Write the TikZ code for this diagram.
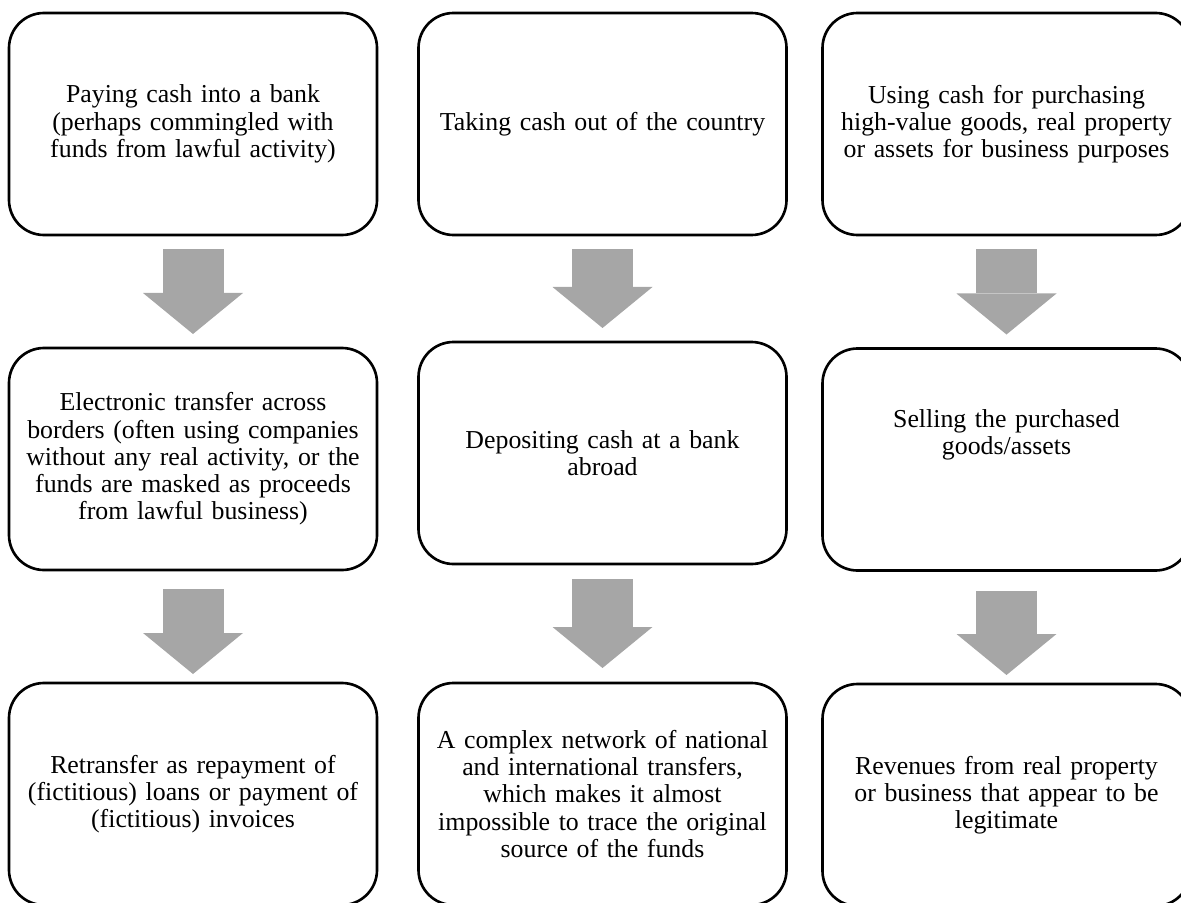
\documentclass[tikz,border=0pt]{standalone}
\usepackage{fontspec}
\setmainfont{Liberation Serif}
\usetikzlibrary{arrows.meta}
\definecolor{arrowgray}{RGB}{166,166,166}

\begin{document}
\begin{tikzpicture}[x=0.2mm, y=-0.2mm,
	stagebox/.style={draw, line width=1.5pt, rounded corners=0.7cm, minimum width=7.36cm, minimum height=4.44cm, text width=7.2cm, align=center, inner sep=0.05cm, outer sep=0pt, font=\fontsize{14.7pt}{15.5pt}\selectfont},
	flowarrow/.style={arrowgray, line width=1.22cm, -{Triangle[width=2cm, length=0.82cm, line width=0pt]}, shorten <=0.28cm, shorten >=0.28cm}]
	\useasboundingbox (0,0) rectangle (1181,902);
	\clip (0,0) rectangle (1181,902);
	
	% --- first row ---
	\node[stagebox] (paycash) at (193,124) {Paying cash into a bank\\(perhaps commingled with\\funds from lawful activity)};
	\node[stagebox] (takeout) at (602.5,124) {Taking cash out of the country};
	\node[stagebox] (buygoods) at (1006.5,124) {Using cash for purchasing\\high-value goods, real property\\or assets for business purposes};
	
	% --- second row ---
	\node[stagebox] (eltransfer) at (193,459) {Electronic transfer across\\borders (often using companies\\without any real activity, or the\\funds are masked as proceeds\\from lawful business)};
	\node[stagebox] (deposit) at (602.5,453) {Depositing cash at a bank\\abroad};
	\node[stagebox] (sellgoods) at (1006.5,459.5) {Selling the purchased\\goods/assets\\~\\~};
	
	% --- third row ---
	\node[stagebox] (retransfer) at (193,794) {Retransfer as repayment of\\(fictitious) loans or payment of\\(fictitious) invoices};
	\node[stagebox] (network) at (602.5,794) {A complex network of national\\and international transfers,\\which makes it almost\\impossible to trace the original\\source of the funds};
	\node[stagebox] (revenues) at (1006.5,795) {Revenues from real property\\or business that appear to be\\legitimate};
	
	% --- arrows ---
	\draw[flowarrow] (paycash) -- (eltransfer);
	\draw[flowarrow, shorten <=0.38cm, shorten >=0.18cm] (eltransfer) -- (retransfer);
	\draw[flowarrow] (takeout) -- (deposit);
	\draw[flowarrow, shorten <=0.3cm, shorten >=0.3cm] (deposit) -- (network);
	\draw[flowarrow] (buygoods) -- (sellgoods);
	\draw[flowarrow, shorten <=0.4cm, shorten >=0.18cm] (sellgoods) -- (revenues);
\end{tikzpicture}
\end{document}
